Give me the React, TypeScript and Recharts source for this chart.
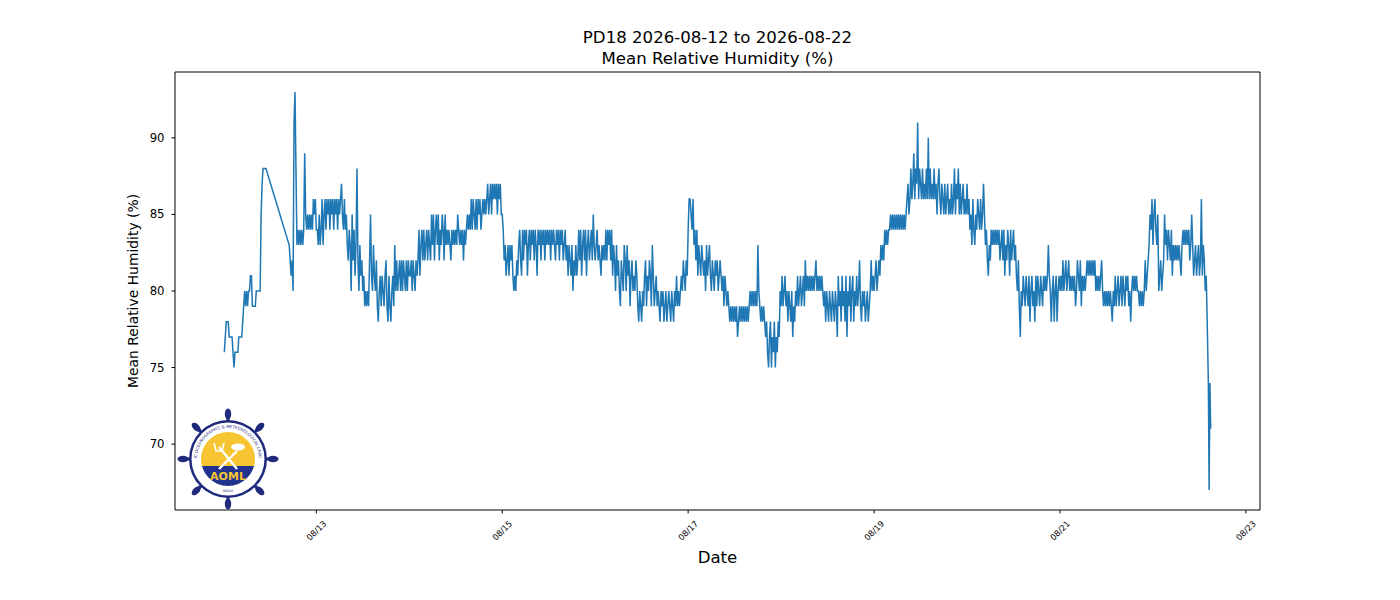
import React from 'react';
import { LineChart, Line, XAxis, YAxis, ReferenceLine } from 'recharts';

// Mean relative humidity (%), quarter-hourly samples per day (null = no sample)
const aug12 = [
  76,77,78,78,78,77,77,77, 77,76,75,76,76,76,76,77, 77,77,77,78,79,80,79,80, 79,80,80,81,81,79,79,79,
  79,80,80,80,80,80,85,87, 88,88,88,88,null,null,null,null, null,null,null,null,null,null,null,null,
  null,null,null,null,null,null,null,null, null,null,null,83,82,81,82,80, 91,93,88,83,84,83,84,83,
  84,83,84,89,85,84,85,84, 85,84,85,84,86,85,86,84];
const aug13 = [
  84,83,85,83,84,86,83,85, 86,84,86,85,86,84,86,85, 86,84,86,85,86,84,86,85, 86,87,85,84,86,84,85,83,
  82,84,83,80,85,82,84,81, 83,88,82,80,83,81,82,80, 81,79,80,79,80,79,82,85, 81,80,83,81,80,82,79,78,
  80,81,79,81,80,79,81,82, 79,78,81,79,78,80,81,79, 83,80,82,80,81,82,80,82, 80,82,81,80,82,80,82,81];
const aug14 = [
  81,82,80,82,81,80,82,81, 82,84,81,83,84,82,84,82, 83,84,82,84,83,82,85,83, 85,82,84,85,83,85,82,84,
  83,85,84,82,85,83,84,83, 84,83,82,84,83,84,83,84, 83,85,84,83,84,83,84,82, 84,83,84,85,84,85,84,86,
  84,86,85,84,86,84,86,85, 86,84,85,86,85,86,85,86, 87,85,86,87,85,87,86,87, 86,87,85,87,86,87,85,85];
const aug15 = [
  84,82,83,81,82,83,81,83, 82,83,81,80,81,80,82,81, 83,84,82,81,84,82,84,83, 84,81,83,84,82,84,83,84,
  82,84,83,81,84,83,84,82, 84,83,84,82,84,83,84,83, 84,82,84,83,84,83,82,84, 83,84,82,84,83,84,82,83,
  84,82,83,81,83,82,81,83, 80,82,81,83,81,82,84,82, 84,81,83,84,82,84,81,83, 84,82,83,84,82,85,83,82];
const aug16 = [
  83,84,82,83,82,81,83,82, 83,82,84,82,84,83,84,82, 84,81,83,82,80,83,81,82, 80,79,82,81,80,83,82,80,
  83,81,82,79,81,82,80,81, 80,82,81,79,78,80,79,78, 80,79,81,82,79,81,80,82, 81,79,83,81,79,80,81,79,
  80,79,78,80,79,80,78,79, 80,78,79,80,79,78,80,79, 78,80,79,81,79,80,79,80, 81,80,82,81,80,82,81,84];
const aug17 = [
  86,86,85,84,86,83,84,82, 84,81,83,82,81,83,82,81, 82,80,83,81,82,83,81,80, 82,81,80,82,81,82,80,81,
  82,81,80,81,79,81,80,79, 80,79,78,79,78,79,78,79, 78,79,77,78,79,78,79,78, 79,78,79,78,79,78,79,80,
  79,80,79,80,79,80,79,83, 80,79,78,79,78,79,78,77, 78,76,75,77,78,75,77,76, 78,75,77,76,78,77,80,79];
const aug18 = [
  81,79,80,81,79,80,78,80, 79,78,80,77,79,78,80,79, 81,79,80,81,79,80,81,79, 82,80,81,80,81,80,81,80,
  81,80,81,82,80,81,80,81, 80,81,80,79,80,78,80,79, 78,80,79,78,80,79,78,80, 79,77,81,79,80,78,81,79,
  80,78,81,77,80,79,81,78, 80,81,78,80,79,81,79,80, 82,79,78,80,79,80,78,79, 80,78,79,80,82,80,81,80];
const aug19 = [
  81,82,80,81,82,81,83,82, 83,82,84,83,84,83,84,84, 85,84,85,84,85,84,85,84, 85,84,85,84,85,84,85,84,
  85,86,87,85,86,88,86,87, 89,86,88,87,91,86,88,87, 86,88,86,87,86,88,86,90, 86,88,86,87,86,88,86,87,
  85,87,88,86,85,87,86,85, 87,85,86,87,85,86,85,87, 85,86,88,85,87,86,88,85, 87,85,86,87,85,86,85,87];
const aug20 = [
  85,86,84,85,83,86,84,83, 85,84,86,85,84,86,84,85, 87,85,83,84,82,81,83,82, 84,83,84,83,84,83,84,83,
  84,82,83,84,82,84,81,83, 82,84,83,81,84,82,83,84, 82,83,81,80,82,79,77,80, 79,81,80,79,81,80,79,81,
  78,80,81,79,80,78,81,79, 81,80,79,81,80,79,81,80, 81,80,81,83,81,80,78,80, 81,78,80,81,78,80,81,80];
const aug21 = [
  81,80,82,80,81,82,80,81, 82,80,81,80,81,80,81,79, 80,82,81,80,82,79,81,80, 81,80,81,82,81,82,81,82,
  81,82,81,82,80,81,80,81, 80,81,82,80,79,80,79,80, 79,80,79,80,79,78,80,79, 81,79,80,81,79,80,81,79,
  81,80,79,81,80,81,79,80, 78,80,81,80,81,80,81,80, 80,79,80,79,80,79,80,82, 80,81,82,83,85,84,86,83];
const aug22 = [
  85,86,84,83,85,80,81,82, 80,81,82,85,83,84,82,84, 83,82,84,81,83,82,83,82, 83,82,83,82,81,83,84,83,
  84,83,84,83,84,82,83,85, 83,81,82,83,81,82,83,81, 82,86,81,83,82,80,81];

const dailyValues = [aug12, aug13, aug14, aug15, aug16, aug17, aug18, aug19, aug20, aug21, aug22];
const dayStartHours = [0, 24, 48, 72, 96, 120, 144, 168, 192, 216, 240];
const SAMPLE_OFFSET = 0.25;
const SAMPLE_STEP = 0.25;

// final rapid drop (hours since 08/12 00:00)
const tailHours = [254.0, 254.15, 254.3, 254.5, 254.7, 254.9];
const tailValues = [78, 76, 74, 67, 74, 71];

const tickHours = [24, 72, 120, 168, 216, 264];
const tickLabels = ['08/13', '08/15', '08/17', '08/19', '08/21', '08/23'];
const yTicks = [70, 75, 80, 85, 90];

const titleLine1 = 'PD18 2026-08-12 to 2026-08-22';
const titleLine2 = 'Mean Relative Humidity (%)';
const xLabel = 'Date';
const yLabel = 'Mean Relative Humidity (%)';

type Row = { t: number; rh: number };
const rows: Row[] = [];
dailyValues.forEach((vals, d) => {
  vals.forEach((v, i) => {
    if (v !== null) rows.push({ t: dayStartHours[d] + SAMPLE_OFFSET + i * SAMPLE_STEP, rh: v as number });
  });
});
tailHours.forEach((t, i) => rows.push({ t, rh: tailValues[i] }));

const ts = rows.map((r) => r.t);
const vs = rows.map((r) => r.rh);
const tMin = Math.min(...ts), tMax = Math.max(...ts);
const vMin = Math.min(...vs), vMax = Math.max(...vs);
const xDomain: [number, number] = [tMin - 0.05 * (tMax - tMin), tMax + 0.05 * (tMax - tMin)];
const yDomain: [number, number] = [vMin - 0.05 * (vMax - vMin), vMax + 0.05 * (vMax - vMin)];

const FONT = 'DejaVu Sans, Verdana, sans-serif';

const XTick = (props: any) => {
  const { x, y, payload } = props;
  const idx = tickHours.indexOf(payload.value);
  const label = idx >= 0 ? tickLabels[idx] : '';
  return (
    <g transform={`translate(${x},${y + 15})`}>
      <text
        x={0}
        y={0}
        transform="rotate(-45)"
        textAnchor="middle"
        dominantBaseline="central"
        fontSize={8.3}
        fontFamily={FONT}
        fill="#000"
      >
        {label}
      </text>
    </g>
  );
};

const YTick = (props: any) => {
  const { x, y, payload } = props;
  return (
    <text x={x} y={y} textAnchor="end" dominantBaseline="central" fontSize={11.7} fontFamily={FONT} fill="#000">
      {String(payload.value)}
    </text>
  );
};

const YLabel = (props: any) => {
  const vb = props.viewBox || { x: 115, y: 72, width: 60, height: 438 };
  const cx = vb.x + 23;
  const cy = vb.y + vb.height / 2;
  return (
    <text
      x={0}
      y={0}
      transform={`translate(${cx},${cy}) rotate(-90)`}
      textAnchor="middle"
      fontSize={13.9}
      fontFamily={FONT}
      fill="#000"
    >
      {yLabel}
    </text>
  );
};

const Logo = () => {
  const cx = 228, cy = 459;
  const navy = '#1f2a7c';
  const angles = [0, 45, 90, 135, 180, 225, 270, 315];
  return (
    <g>
      <defs>
        <clipPath id="diskClip">
          <circle cx={cx} cy={cy} r={27} />
        </clipPath>
        <path id="ringText" d={`M ${cx - 31} ${cy} A 31 31 0 1 1 ${cx + 31} ${cy}`} />
      </defs>
      {angles.map((a) => {
        const rad = (a * Math.PI) / 180;
        const x2 = cx + Math.cos(rad) * 45;
        const y2 = cy + Math.sin(rad) * 45;
        return (
          <g key={a}>
            <line x1={cx} y1={cy} x2={x2} y2={y2} stroke={navy} strokeWidth={3} />
            <ellipse cx={x2} cy={y2} rx={5.5} ry={3.2} fill={navy} transform={`rotate(${a} ${x2} ${y2})`} />
          </g>
        );
      })}
      <circle cx={cx} cy={cy} r={39} fill={navy} />
      <circle cx={cx} cy={cy} r={36.5} fill="#ffffff" />
      <text fontSize={4} fill={navy} fontFamily={FONT}>
        <textPath href="#ringText" startOffset="50%" textAnchor="middle">
          ATLANTIC OCEANOGRAPHIC &amp; METEOROLOGICAL LABORATORY
        </textPath>
      </text>
      <g clipPath="url(#diskClip)">
        <rect x={cx - 28} y={cy - 28} width={56} height={35} fill="#f7c531" />
        <rect x={cx - 28} y={cy + 7} width={56} height={22} fill="#22338f" />
      </g>
      <line x1={cx - 9} y1={cy - 12} x2={cx + 9} y2={cy + 10} stroke="#fff" strokeWidth={2.4} />
      <line x1={cx + 9} y1={cy - 8} x2={cx - 9} y2={cy + 10} stroke="#fff" strokeWidth={2.4} />
      <path d={`M ${cx - 14} ${cy - 16} L ${cx - 12} ${cy - 8} L ${cx - 6} ${cy - 8} L ${cx - 4} ${cy - 16}`} stroke="#fff" strokeWidth={1.6} fill="none" />
      <ellipse cx={cx + 10} cy={cy - 12} rx={7} ry={3.5} fill="#fff" />
      <text x={cx} y={cy + 21} textAnchor="middle" fontSize={11} fontWeight="bold" fill="#f7c531" fontFamily={FONT}>AOML</text>
      <text x={cx} y={cy + 33} textAnchor="middle" fontSize={3.5} fill={navy} fontFamily={FONT}>NOAA</text>
    </g>
  );
};

export default function App() {
  return (
    <div style={{ position: 'absolute', left: 0, top: 0, width: 1400, height: 600, background: '#fff', fontFamily: FONT }}>
      <LineChart width={1400} height={600} data={rows} margin={{ top: 72, right: 140, bottom: 60, left: 115 }}>
        <XAxis
          dataKey="t"
          type="number"
          domain={xDomain}
          ticks={tickHours}
          interval={0}
          tick={<XTick />}
          tickSize={3.5}
          tickMargin={2}
          height={30}
          stroke="#000"
          allowDataOverflow
        />
        <YAxis
          type="number"
          domain={yDomain}
          ticks={yTicks}
          interval={0}
          width={60}
          tickSize={3.5}
          tickMargin={7}
          stroke="#000"
          tick={<YTick />}
          label={<YLabel />}
          allowDataOverflow
        />
        <ReferenceLine y={yDomain[1]} stroke="#000" strokeWidth={1} ifOverflow="visible" />
        <ReferenceLine x={xDomain[1]} stroke="#000" strokeWidth={1} ifOverflow="visible" />
        <Line
          dataKey="rh"
          type="linear"
          stroke="#1f77b4"
          strokeWidth={1.5}
          dot={false}
          isAnimationActive={false}
          connectNulls
        />
      </LineChart>
      <svg width={1400} height={600} style={{ position: 'absolute', left: 0, top: 0, pointerEvents: 'none' }}>
        <text x={717.5} y={43} textAnchor="middle" fontSize={16.6} fontFamily={FONT} fill="#000">{titleLine1}</text>
        <text x={717.5} y={64} textAnchor="middle" fontSize={16.6} fontFamily={FONT} fill="#000">{titleLine2}</text>
        <text x={717.5} y={563} textAnchor="middle" fontSize={16.6} fontFamily={FONT} fill="#000">{xLabel}</text>
        <Logo />
      </svg>
    </div>
  );
}
